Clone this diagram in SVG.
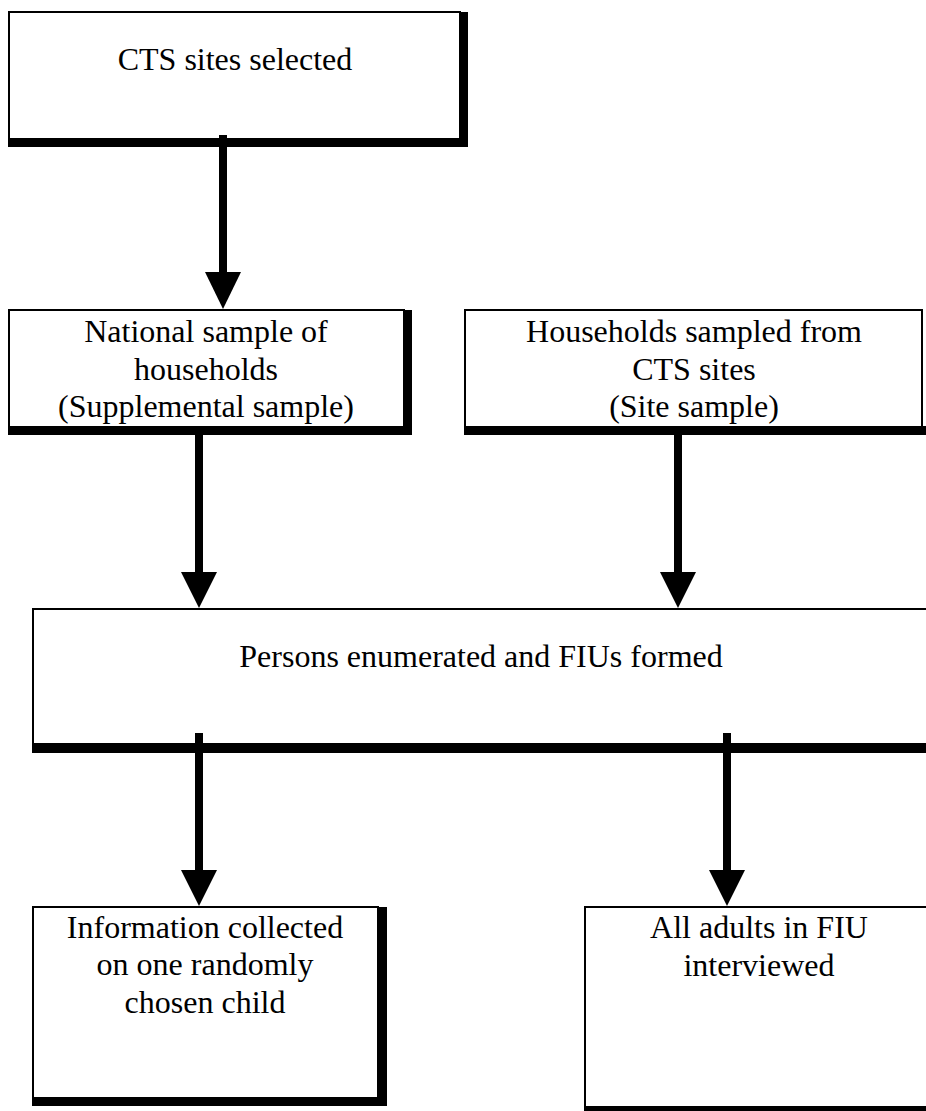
<svg xmlns="http://www.w3.org/2000/svg" width="926" height="1111" viewBox="0 0 926 1111">
<style>
.box{fill:#fff;stroke:#000;stroke-width:2}
.sh{fill:#000}
.t{font-family:"Liberation Serif","Times New Roman",serif;font-size:32px;fill:#000;text-anchor:middle}
.ln{stroke:#000;stroke-width:8;fill:none}
.ah{fill:#000}
</style>
<rect width="926" height="1111" fill="#fff"/>
<g id="node-cts-sites">
<rect class="box" x="9" y="12" width="451" height="127"/>
<rect class="sh" x="460" y="12" width="8" height="135"/>
<rect class="sh" x="8" y="138" width="460" height="9"/>
<text class="t" x="235" y="70">CTS sites selected</text>
</g>
<g id="node-national">
<rect class="box" x="9" y="310" width="395" height="117"/>
<rect class="sh" x="403" y="310" width="9" height="125"/>
<rect class="sh" x="8" y="426" width="404" height="9"/>
<text class="t" x="206" y="342">National sample of</text>
<text class="t" x="206" y="380">households</text>
<text class="t" x="206" y="417">(Supplemental sample)</text>
</g>
<g id="node-households">
<rect class="box" x="465" y="310" width="457" height="117"/>
<rect class="sh" x="464" y="426" width="462" height="9"/>
<text class="t" x="694" y="342">Households sampled from</text>
<text class="t" x="694" y="380">CTS sites</text>
<text class="t" x="694" y="417">(Site sample)</text>
</g>
<g id="node-persons">
<rect class="box" x="33" y="609" width="900" height="135"/>
<rect class="sh" x="32" y="743" width="894" height="10"/>
<text class="t" x="481" y="667">Persons enumerated and FIUs formed</text>
</g>
<g id="node-information">
<rect class="box" x="33" y="907" width="345" height="191"/>
<rect class="sh" x="378" y="907" width="9" height="199"/>
<rect class="sh" x="32" y="1097" width="355" height="9"/>
<text class="t" x="205" y="938">Information collected</text>
<text class="t" x="205" y="975">on one randomly</text>
<text class="t" x="205" y="1013">chosen child</text>
</g>
<g id="node-adults">
<rect class="box" x="585" y="907" width="360" height="200"/>
<rect class="sh" x="584" y="1106" width="342" height="5"/>
<text class="t" x="759" y="938">All adults in FIU</text>
<text class="t" x="759" y="976">interviewed</text>
</g>
<g id="connectors">
<line class="ln" x1="223" y1="135" x2="223" y2="273"/>
<polygon class="ah" points="205,272 241,272 223,309"/>
<line class="ln" x1="199" y1="430" x2="199" y2="573"/>
<polygon class="ah" points="181,572 217,572 199,608"/>
<line class="ln" x1="678" y1="430" x2="678" y2="573"/>
<polygon class="ah" points="660,572 696,572 678,608"/>
<line class="ln" x1="199" y1="733" x2="199" y2="871"/>
<polygon class="ah" points="181,870 217,870 199,906"/>
<line class="ln" x1="727" y1="733" x2="727" y2="871"/>
<polygon class="ah" points="709,870 745,870 727,906"/>
</g>
</svg>
